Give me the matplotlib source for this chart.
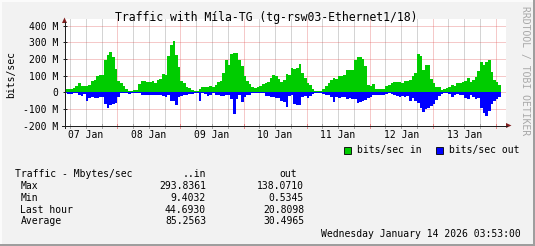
import numpy as np
import matplotlib
matplotlib.use('Agg')
import matplotlib.pyplot as plt
from matplotlib.patches import Rectangle, Polygon
from matplotlib.lines import Line2D
from matplotlib.transforms import blended_transform_factory

# --- DATA (hourly averages, Mbit/s, hours counted from 07 Jan 00:00) ---
hour_edges = np.arange(4, 171)

traffic_in = [
    22, 22, 22, 28, 36, 58, 38, 38, 38, 42,
    70, 76, 100, 106, 106, 192, 222, 240, 210, 140,
    70, 58, 36, 18, 6, 10, 16, 16, 52, 70,
    70, 60, 60, 70, 55, 76, 80, 110, 106, 216,
    282, 306, 225, 150, 70, 54, 34, 26, 16, 10,
    10, 22, 30, 34, 34, 38, 34, 46, 62, 70,
    116, 195, 163, 227, 233, 233, 195, 155, 100, 70,
    50, 30, 24, 30, 36, 52, 58, 64, 86, 106,
    98, 80, 60, 76, 110, 106, 147, 141, 147, 167,
    117, 86, 58, 46, 20, 10, 10, 6, 22, 40,
    58, 74, 84, 78, 98, 98, 102, 135, 135, 131,
    191, 209, 209, 201, 155, 46, 36, 52, 22, 22,
    22, 22, 36, 46, 54, 60, 60, 60, 54, 70,
    70, 74, 100, 115, 227, 217, 131, 161, 161, 80,
    54, 34, 34, 16, 22, 26, 34, 46, 40, 58,
    54, 64, 68, 88, 64, 76, 94, 125, 179, 161,
    179, 195, 121, 74, 62, 46,
]

traffic_out = [
    4, 10, 12, 6, 6, 16, 22, 10, 50, 34,
    30, 34, 34, 26, 30, 70, 97, 76, 70, 66,
    26, 4, 6, 2, 10, 2, 6, 6, 6, 16,
    16, 14, 14, 18, 18, 18, 14, 22, 30, 14,
    50, 50, 76, 26, 22, 14, 14, 10, 8, 6,
    6, 50, 6, 10, 24, 14, 6, 16, 16, 22,
    22, 18, 14, 42, 133, 38, 14, 60, 26, 18,
    14, 6, 4, 4, 4, 4, 24, 24, 30, 30,
    34, 34, 54, 56, 90, 24, 18, 70, 76, 76,
    30, 22, 34, 22, 10, 6, 6, 4, 8, 14,
    18, 26, 58, 30, 34, 26, 30, 38, 34, 42,
    42, 62, 56, 50, 46, 32, 26, 18, 18, 14,
    18, 18, 12, 6, 12, 14, 22, 30, 22, 30,
    22, 54, 34, 50, 66, 95, 121, 101, 93, 85,
    70, 44, 22, 10, 6, 4, 10, 28, 18, 10,
    14, 14, 34, 42, 18, 26, 42, 34, 95, 123,
    145, 111, 70, 50, 42, 26,
]

day_labels = ['07 Jan', '08 Jan', '09 Jan', '10 Jan', '11 Jan', '12 Jan', '13 Jan']
y_ticks = [-200, -100, 0, 100, 200, 300, 400]
y_tick_labels = ['-200 M', '-100 M', '0', '100 M', '200 M', '300 M', '400 M']

stat_names = ['Max', 'Min', 'Last hour', 'Average']
stat_in = ['293.8361', '9.4032', '44.6930', '85.2563']
stat_out = ['138.0710', '0.5345', '20.8098', '30.4965']

title = 'Traffic with Míla-TG (tg-rsw03-Ethernet1/18)'
stamp = 'Wednesday January 14 2026 03:53:00'

# --- COLOURS (rrdtool style) ---
BACK = '#F2F2F2'
SHADE_A = '#FBFBFB'
SHADE_B = '#9E9E9E'
GRID = (0.56, 0.56, 0.56, 0.75)
MGRID = (0.87, 0.31, 0.31, 0.6)
ARROW = '#801F1F'
AXIS = '#1F1F1F'
GREEN = '#00CC00'
BLUE = '#0000FF'

W, H = 535, 246
plt.rcParams['font.family'] = 'DejaVu Sans Mono'


def fx(x):
    return x / W


def fy(y):
    return 1 - y / H


fig = plt.figure(figsize=(W / 100, H / 100), dpi=100, facecolor=BACK)

# 3d border
fig.add_artist(Rectangle((0, fy(2)), 1, 2 / H, transform=fig.transFigure, color=SHADE_A, lw=0))
fig.add_artist(Rectangle((0, 0), 2 / W, 1, transform=fig.transFigure, color=SHADE_A, lw=0))
fig.add_artist(Rectangle((0, 0), 1, 2 / H, transform=fig.transFigure, color=SHADE_B, lw=0))
fig.add_artist(Rectangle((fx(W - 2), 0), 2 / W, 1, transform=fig.transFigure, color=SHADE_B, lw=0))

# graph area
x0, x1, ytop, ybot = 64.5, 506, 19, 125.5
ax = fig.add_axes([fx(x0), fy(ybot), (x1 - x0) / W, (ybot - ytop) / H])
ax.set_facecolor('white')
ax.set_xlim(3 + 53 / 60, 171 + 53 / 60)
ax.set_ylim(-200, 440)
for s in ax.spines.values():
    s.set_visible(False)

# grid
dots = (0, (1, 1))
for h in range(6, 172, 6):
    ax.axvline(h, color=MGRID if h % 24 == 0 else GRID, lw=0.72, ls=dots, zorder=1)
for v in y_ticks:
    ax.axhline(v, color=MGRID, lw=0.72, ls=dots, zorder=1)

# traffic
ax.stairs(traffic_in, hour_edges, baseline=0, fill=True, color=GREEN, zorder=2)
ax.stairs(-np.array(traffic_out), hour_edges, baseline=0, fill=True, color=BLUE, zorder=2)

# y ticks and labels
ax.set_yticks(y_ticks, y_tick_labels)
ax.tick_params(axis='y', direction='inout', length=3, width=0.72, color=AXIS,
               pad=3, labelsize=7)
ax.set_xticks([])

# x tick marks
xt = ax.get_xaxis_transform()
px = 1 / (ybot - ytop)
for h in range(6, 172, 6):
    ax.plot([h, h], [-2 * px, 2 * px], transform=xt, clip_on=False,
            color=MGRID if h % 24 == 0 else GRID, lw=0.72, zorder=5)

# day labels at noon
bt = blended_transform_factory(ax.transData, fig.transFigure)
for i, lab in enumerate(day_labels):
    ax.text(12 + 24 * i, fy(138), lab, transform=bt, ha='center', va='baseline', fontsize=7)

# axes with arrows
fig.add_artist(Line2D([fx(62), fx(507)], [fy(ybot), fy(ybot)], color=AXIS, lw=0.72))
fig.add_artist(Line2D([fx(x0), fx(x0)], [fy(128), fy(22)], color=AXIS, lw=0.72))
fig.add_artist(Polygon([[fx(506), fy(ybot - 2.5)], [fx(506), fy(ybot + 2.5)], [fx(511.5), fy(ybot)]],
                       closed=True, transform=fig.transFigure, color=ARROW, lw=0))
fig.add_artist(Polygon([[fx(x0 - 2.5), fy(23)], [fx(x0 + 2.5), fy(23)], [fx(x0), fy(17.5)]],
                       closed=True, transform=fig.transFigure, color=ARROW, lw=0))

# texts
fig.text(fx(266), fy(20.7), title, ha='center', va='baseline', fontsize=8.3)
fig.text(fx(11), fy(75), 'bits/sec', rotation=90, ha='center', va='center', fontsize=7)
fig.text(fx(525), fy(71), 'RRDTOOL / TOBI OETIKER', rotation=270, ha='center', va='center',
         fontsize=7, color='#A8A8A8')

# legend
for bx, col, lab in [(344, GREEN, 'bits/sec in'), (436, BLUE, 'bits/sec out')]:
    fig.add_artist(Rectangle((fx(bx), fy(154)), 7 / W, 7 / H, transform=fig.transFigure,
                             facecolor=col, edgecolor='black', lw=0.6))
    fig.text(fx(bx + 13), fy(153.3), lab, ha='left', va='baseline', fontsize=7)

# statistics block
fig.text(fx(15), fy(177), 'Traffic - Mbytes/sec', ha='left', va='baseline', fontsize=7)
fig.text(fx(206), fy(177), '..in', ha='right', va='baseline', fontsize=7)
fig.text(fx(279), fy(177), 'out', ha='left', va='baseline', fontsize=7)
for i, name in enumerate(stat_names):
    yb = 189 + 11.8 * i
    fig.text(fx(20.5), fy(yb), name, ha='left', va='baseline', fontsize=7)
    fig.text(fx(206), fy(yb), stat_in[i], ha='right', va='baseline', fontsize=7)
    fig.text(fx(304), fy(yb), stat_out[i], ha='right', va='baseline', fontsize=7)

fig.text(fx(521), fy(237.3), stamp, ha='right', va='baseline', fontsize=7)

fig.savefig('out.png', dpi=100, facecolor=BACK)
